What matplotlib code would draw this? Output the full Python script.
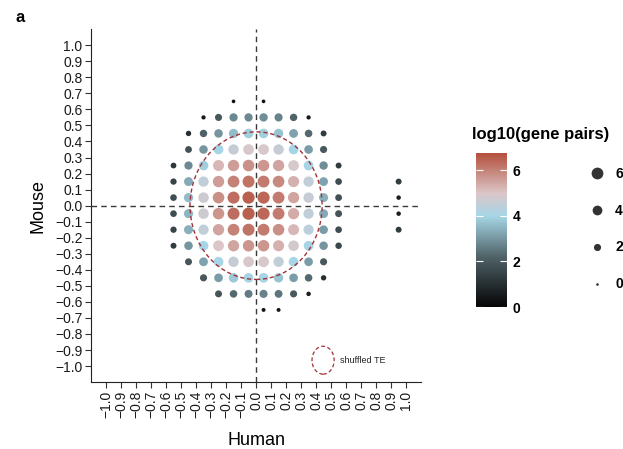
import numpy as np
import matplotlib
matplotlib.use("Agg")
import matplotlib.pyplot as plt
from matplotlib.colors import LinearSegmentedColormap
from matplotlib.patches import Ellipse
from matplotlib.lines import Line2D

plt.rcParams["font.family"] = ["Liberation Sans", "DejaVu Sans"]

# bin centres (Human on x, Mouse on y)
human_bins = [-0.55, -0.45, -0.35, -0.25, -0.15, -0.05, 0.05, 0.15, 0.25, 0.35, 0.45, 0.55, 0.95]
mouse_bins = [0.65, 0.55, 0.45, 0.35, 0.25, 0.15, 0.05, -0.05, -0.15, -0.25, -0.35, -0.45, -0.55, -0.65]

n = None
# log10(gene pairs), one row per mouse bin, one column per human bin
log_pairs = [
    [n, n, n, n, 0.3, n, 0.3, n, n, n, n, n, n],
    [n, n, 0.5, 2.0, 2.8, 2.8, 2.9, 2.7, 2.2, 0.5, n, n, n],
    [n, 1.0, 2.2, 3.0, 3.6, 3.9, 3.9, 3.7, 3.2, 2.3, 1.3, n, n],
    [n, 1.8, 3.0, 4.0, 4.6, 4.9, 4.9, 4.6, 4.0, 3.1, 2.0, n, n],
    [1.2, 2.8, 3.9, 5.2, 5.6, 5.8, 5.7, 5.5, 4.9, 4.0, 2.9, 1.3, n],
    [1.5, 3.3, 4.5, 5.6, 6.0, 6.2, 6.1, 5.9, 5.3, 4.5, 3.2, 1.7, 1.3],
    [1.7, 3.6, 4.7, 5.8, 6.3, 6.5, 6.4, 6.1, 5.5, 4.6, 3.4, 1.8, 0.6],
    [1.7, 3.5, 4.7, 5.7, 6.3, 6.5, 6.4, 6.1, 5.4, 4.5, 3.3, 1.9, 0.6],
    [1.5, 3.4, 4.5, 5.5, 6.0, 6.2, 6.1, 5.8, 5.2, 4.4, 3.1, 1.7, 1.3],
    [1.3, 3.0, 4.0, 5.0, 5.5, 5.7, 5.7, 5.3, 4.8, 4.0, 3.0, 1.6, n],
    [n, 1.9, 3.2, 4.0, 4.6, 4.9, 4.9, 4.5, 4.0, 3.1, 2.0, n, n],
    [n, n, 2.0, 3.1, 3.8, 4.0, 4.0, 3.7, 3.1, 2.3, 1.0, n, n],
    [n, n, n, 1.9, 2.3, 2.6, 2.7, 2.5, 2.0, 0.6, n, n, n],
    [n, n, n, n, n, n, 0.4, 0.4, n, n, n, n, n],
]

legend_values = [6, 4, 2, 0]
axis_ticks = [i / 10 for i in range(-10, 11)]
tick_labels = [f"{t:.1f}".replace("-", "\u2212") for t in axis_ticks]

xs, ys, vs = [], [], []
for y, row in zip(mouse_bins, log_pairs):
    for x, v in zip(human_bins, row):
        if v is not None:
            xs.append(x)
            ys.append(y)
            vs.append(v)
vs = np.array(vs)


def dot_size(v):
    return 3.6 + 11.4 * np.asarray(v)


vmax = 6.75
cmap = LinearSegmentedColormap.from_list(
    "gp",
    [(0.0, "#050505"), (2.2 / vmax, "#4f6268"), (4.0 / vmax, "#a6d6e6"),
     (5.0 / vmax, "#dcc6c8"), (1.0, "#b4503c")],
)

fig = plt.figure(figsize=(6.23, 4.49), dpi=100)
ax = fig.add_axes([0.146, 0.149, 0.530, 0.786])

sc = ax.scatter(xs, ys, s=dot_size(vs), c=vs, cmap=cmap, vmin=0, vmax=vmax,
                edgecolors="none", zorder=2)

ax.axvline(0, color="#3a3a3a", ls=(0, (4, 3)), lw=1, zorder=3)
ax.axhline(0, color="#3a3a3a", ls=(0, (4, 3)), lw=1, zorder=3)
ax.add_patch(Ellipse((0, 0), 0.88, 0.92, fill=False, ec="#a0323a",
                     ls=(0, (3, 2)), lw=1, zorder=4))

ax.set_xlim(-1.1, 1.1)
ax.set_ylim(-1.1, 1.1)
ax.set_xticks(axis_ticks)
ax.set_xticklabels(tick_labels, rotation=90)
ax.set_yticks(axis_ticks)
ax.set_yticklabels(tick_labels)
ax.tick_params(labelsize=10, length=4, width=0.8, color="#333333",
               labelcolor="#1a1a1a", pad=2)
for s in ["top", "right"]:
    ax.spines[s].set_visible(False)
for s in ["left", "bottom"]:
    ax.spines[s].set_linewidth(0.8)
    ax.spines[s].set_color("#222222")
ax.set_xlabel("Human", fontsize=13, labelpad=10)
ax.set_ylabel("Mouse", fontsize=13, labelpad=6)

# shuffled TE key
ax.add_patch(Ellipse((0.703, 0.062), 0.067, 0.079, transform=ax.transAxes,
                     fill=False, ec="#a0323a", ls=(0, (3, 2)), lw=0.9))
ax.text(0.755, 0.062, "shuffled TE", transform=ax.transAxes,
        fontsize=6.5, va="center", ha="left", color="#222222")

# colour bar
cax = fig.add_axes([0.764, 0.316, 0.0498, 0.343])
cb = fig.colorbar(sc, cax=cax, ticks=[0, 2, 4, 6])
cb.outline.set_visible(False)
cax.tick_params(which="major", direction="in", length=5, width=0.8,
                color="white", left=True, right=True, labelsize=10, pad=4)
cax.minorticks_off()
for t in cax.get_yticklabels():
    t.set_fontweight("bold")

fig.text(0.867, 1 - 135 / 449, "log10(gene pairs)", ha="center", va="center",
         fontsize=12, fontweight="bold")

# size legend
handles = [Line2D([], [], marker="o", ls="", color="#333333",
                  markeredgewidth=0, markersize=np.sqrt(dot_size(v)))
           for v in legend_values]
fig.legend(handles, [str(v) for v in legend_values], loc="center left",
           bbox_to_anchor=(0.927, 0.49), frameon=False, labelspacing=1.65,
           handletextpad=0.8, handlelength=1.0, prop={"weight": "bold", "size": 10})

fig.text(15 / 623, 1 - 18 / 449, "a", fontweight="bold", fontsize=12,
         ha="left", va="center")

fig.savefig("out.png", dpi=100)
